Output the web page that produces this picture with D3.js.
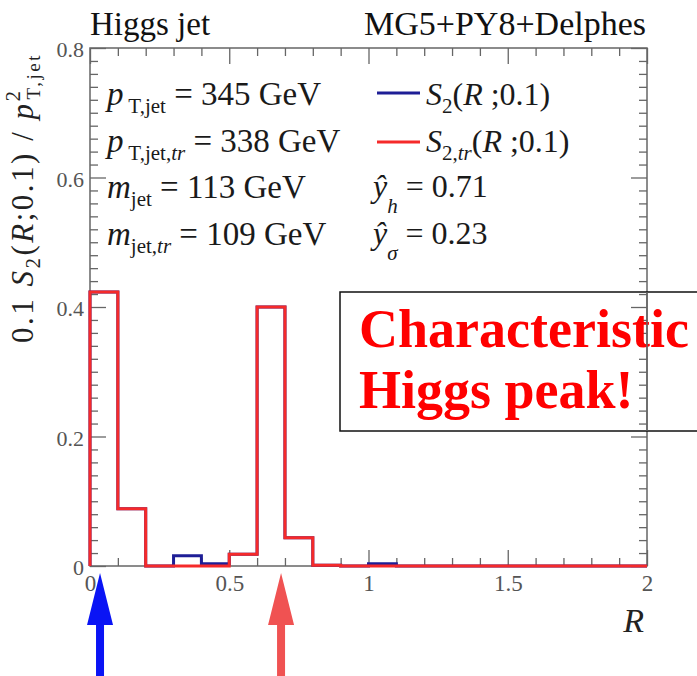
<!DOCTYPE html>
<html><head><meta charset="utf-8">
<script src="https://cdn.jsdelivr.net/npm/d3@7"></script>
<style>
body{margin:0;background:#fff;}
svg{display:block;}
</style></head>
<body>
<svg id="c" width="697" height="676" font-family="Liberation Serif"></svg>
<script>
// ---- data ----
const binLow  = [0.0,0.1,0.2,0.3,0.4,0.5,0.6,0.7,0.8,0.9,1.0,1.1,1.2,1.3,1.4,1.5,1.6,1.7,1.8,1.9];
const binWidth = 0.1;
const s2     = [0.423,0.0885,0,0.016,0.0035,0.018,0.400,0.0437,0.001,0,0.0035,0,0,0,0,0,0,0,0,0];
const s2tr   = [0.423,0.0885,0,0,0,0.018,0.400,0.0437,0.001,0,0,0,0,0,0,0,0,0,0,0];
const xMajor = [0,0.5,1,1.5,2];
const xMajorLabels = ["0","0.5","1","1.5","2"];
const yMajor = [0,0.2,0.4,0.6,0.8];
const yMajorLabels = ["0","0.2","0.4","0.6","0.8"];
const arrowR = [0.036, 0.686];
const arrowColors = ["#0a14f5","#f05252"];

const FONT = "Liberation Serif";
const svg = d3.select("#c");
const L=90,R=647,T=48,B=566;
const x = d3.scaleLinear().domain([0,2]).range([L,R]);
const y = d3.scaleLinear().domain([0,0.8]).range([B,T]);
const frameCol = "#666";

const xMinor = d3.range(0,2.0001,0.1).filter(v=>Math.abs(v*2-Math.round(v*2))>1e-6);
const yMinor = d3.range(0,0.8001,0.02).filter(v=>Math.abs(v*5-Math.round(v*5))>1e-6);

function styleAxis(g){ g.attr("font-family",FONT); g.select(".domain").remove(); g.selectAll("line").attr("stroke",frameCol).attr("stroke-width",1.3); }

svg.append("rect").attr("x",L).attr("y",T).attr("width",R-L).attr("height",B-T)
  .attr("fill","none").attr("stroke",frameCol).attr("stroke-width",1.5);

svg.append("g").attr("transform",`translate(0,${B})`)
  .call(d3.axisBottom(x).tickValues(xMajor).tickSize(-16).tickPadding(9).tickFormat((d,i)=>xMajorLabels[i]))
  .call(styleAxis).call(g=>g.selectAll("text").attr("font-size",23).attr("fill","#555"));
svg.append("g").attr("transform",`translate(0,${B})`)
  .call(d3.axisBottom(x).tickValues(xMinor).tickSize(-8).tickFormat("")).call(styleAxis);
svg.append("g").attr("transform",`translate(0,${T})`)
  .call(d3.axisTop(x).tickValues(xMajor).tickSize(-16).tickFormat("")).call(styleAxis);
svg.append("g").attr("transform",`translate(0,${T})`)
  .call(d3.axisTop(x).tickValues(xMinor).tickSize(-8).tickFormat("")).call(styleAxis);
svg.append("g").attr("transform",`translate(${L},0)`)
  .call(d3.axisLeft(y).tickValues(yMajor).tickSize(-16).tickPadding(6).tickFormat((d,i)=>yMajorLabels[i]))
  .call(styleAxis).call(g=>g.selectAll("text").attr("font-size",22).attr("fill","#555").attr("dy","0.4em"));
svg.append("g").attr("transform",`translate(${L},0)`)
  .call(d3.axisLeft(y).tickValues(yMinor).tickSize(-8).tickFormat("")).call(styleAxis);
svg.append("g").attr("transform",`translate(${R},0)`)
  .call(d3.axisRight(y).tickValues(yMajor).tickSize(-16).tickFormat("")).call(styleAxis);
svg.append("g").attr("transform",`translate(${R},0)`)
  .call(d3.axisRight(y).tickValues(yMinor).tickSize(-8).tickFormat("")).call(styleAxis);

function stepPts(vals){
  const pts=[[binLow[0],0]];
  vals.forEach((v,i)=>{pts.push([binLow[i],v]);pts.push([binLow[i]+binWidth,v]);});
  pts.push([binLow[binLow.length-1]+binWidth,0]);
  return pts;
}
const line = d3.line().x(d=>x(d[0])).y(d=>y(d[1]));
svg.append("path").attr("d",line(stepPts(s2))).attr("fill","none").attr("stroke","#1e1e96").attr("stroke-width",3);
svg.append("path").attr("d",line(stepPts(s2tr))).attr("fill","none").attr("stroke","#f52a2a").attr("stroke-width",3);

svg.append("rect").attr("x",340).attr("y",292).attr("width",400).attr("height",139)
  .attr("fill","none").attr("stroke","#111").attr("stroke-width",1.5);
svg.append("text").attr("x",359).attr("y",347).attr("font-size",54).attr("font-weight","bold").attr("fill","#ff0000").text("Characteristic");
svg.append("text").attr("x",359).attr("y",408).attr("font-size",54).attr("font-weight","bold").attr("fill","#ff0000").text("Higgs peak!");
svg.append("line").attr("x1",R).attr("x2",R).attr("y1",292).attr("y2",431).attr("stroke",frameCol).attr("stroke-width",1.5);

svg.append("text").attr("x",90).attr("y",35).attr("font-size",33).attr("fill","#111").text("Higgs jet");
svg.append("text").attr("x",646).attr("y",35).attr("font-size",34).attr("fill","#111").attr("text-anchor","end").text("MG5+PY8+Delphes");

function rich(g, parts, attrs){
  const t = g.append("text");
  Object.entries(attrs).forEach(([k,v])=>t.attr(k,v));
  parts.forEach(p=>{
    const s=t.append("tspan").text(p.t);
    if(p.i) s.attr("font-style","italic");
    if(p.fs) s.attr("font-size",p.fs);
    if(p.dy!==undefined) s.attr("dy",p.dy);
    if(p.dx!==undefined) s.attr("dx",p.dx);
  });
  return t;
}
const info = svg.append("g").attr("fill","#1a1a1a");
const F=33, SF=21;
rich(info,[{t:"p",i:1},{t:" T,jet",fs:SF,dy:8},{t:" = 345 GeV",fs:F,dy:-8}],{x:107,y:105,"font-size":F});
rich(info,[{t:"p",i:1},{t:" T,jet,",fs:SF,dy:8},{t:"tr",i:1,fs:SF},{t:" = 338 GeV",fs:F,dy:-8}],{x:107,y:152,"font-size":F});
rich(info,[{t:"m",i:1},{t:"jet",fs:SF,dy:8},{t:" = 113 GeV",fs:F,dy:-8}],{x:107,y:198,"font-size":F});
rich(info,[{t:"m",i:1},{t:"jet,",fs:SF,dy:8},{t:"tr",i:1,fs:SF},{t:" = 109 GeV",fs:F,dy:-8}],{x:107,y:245,"font-size":F});

svg.append("line").attr("x1",377).attr("x2",420).attr("y1",93).attr("y2",93).attr("stroke","#1e1e96").attr("stroke-width",3);
svg.append("line").attr("x1",377).attr("x2",420).attr("y1",142).attr("y2",142).attr("stroke","#f52a2a").attr("stroke-width",3);
rich(info,[{t:"S",i:1},{t:"2",fs:SF,dy:8},{t:"(",dy:-8,fs:32},{t:"R",i:1},{t:" ;0.1)"}],{x:426,y:105,"font-size":32});
rich(info,[{t:"S",i:1},{t:"2,",fs:SF,dy:8},{t:"tr",i:1,fs:SF},{t:"(",dy:-8,fs:32},{t:"R",i:1},{t:" ;0.1)"}],{x:426,y:152,"font-size":32});
rich(info,[{t:"ŷ",i:1},{t:"h",i:1,fs:SF,dy:16},{t:" = 0.71",fs:32,dy:-16}],{x:373,y:197,"font-size":32});
rich(info,[{t:"ŷ",i:1},{t:"σ",i:1,fs:SF,dy:16},{t:" = 0.23",fs:32,dy:-16}],{x:373,y:244,"font-size":32});

rich(svg.append("g").attr("fill","#222"),
  [{t:"0.1 "},{t:"S",i:1},{t:"2",fs:21,dy:7},{t:"(",fs:31,dy:-7},{t:"R",i:1},{t:";0.1) / "},{t:"p",i:1},
   {t:"2",fs:21,dy:-13},{t:"T,jet",fs:19,dx:-11,dy:20}],
  {transform:"translate(33,53) rotate(-90)","text-anchor":"end","font-size":31,"letter-spacing":2.5});

svg.append("text").attr("x",644).attr("y",632).attr("font-size",34).attr("font-style","italic").attr("text-anchor","end").attr("fill","#222").text("R");

arrowR.forEach((r,i)=>{
  const cx=x(r), c=arrowColors[i];
  svg.append("path").attr("d",`M${cx},573 L${cx+13},625 L${cx+4},625 L${cx+4},676 L${cx-4},676 L${cx-4},625 L${cx-13},625 Z`).attr("fill",c);
});
</script>
</body></html>
